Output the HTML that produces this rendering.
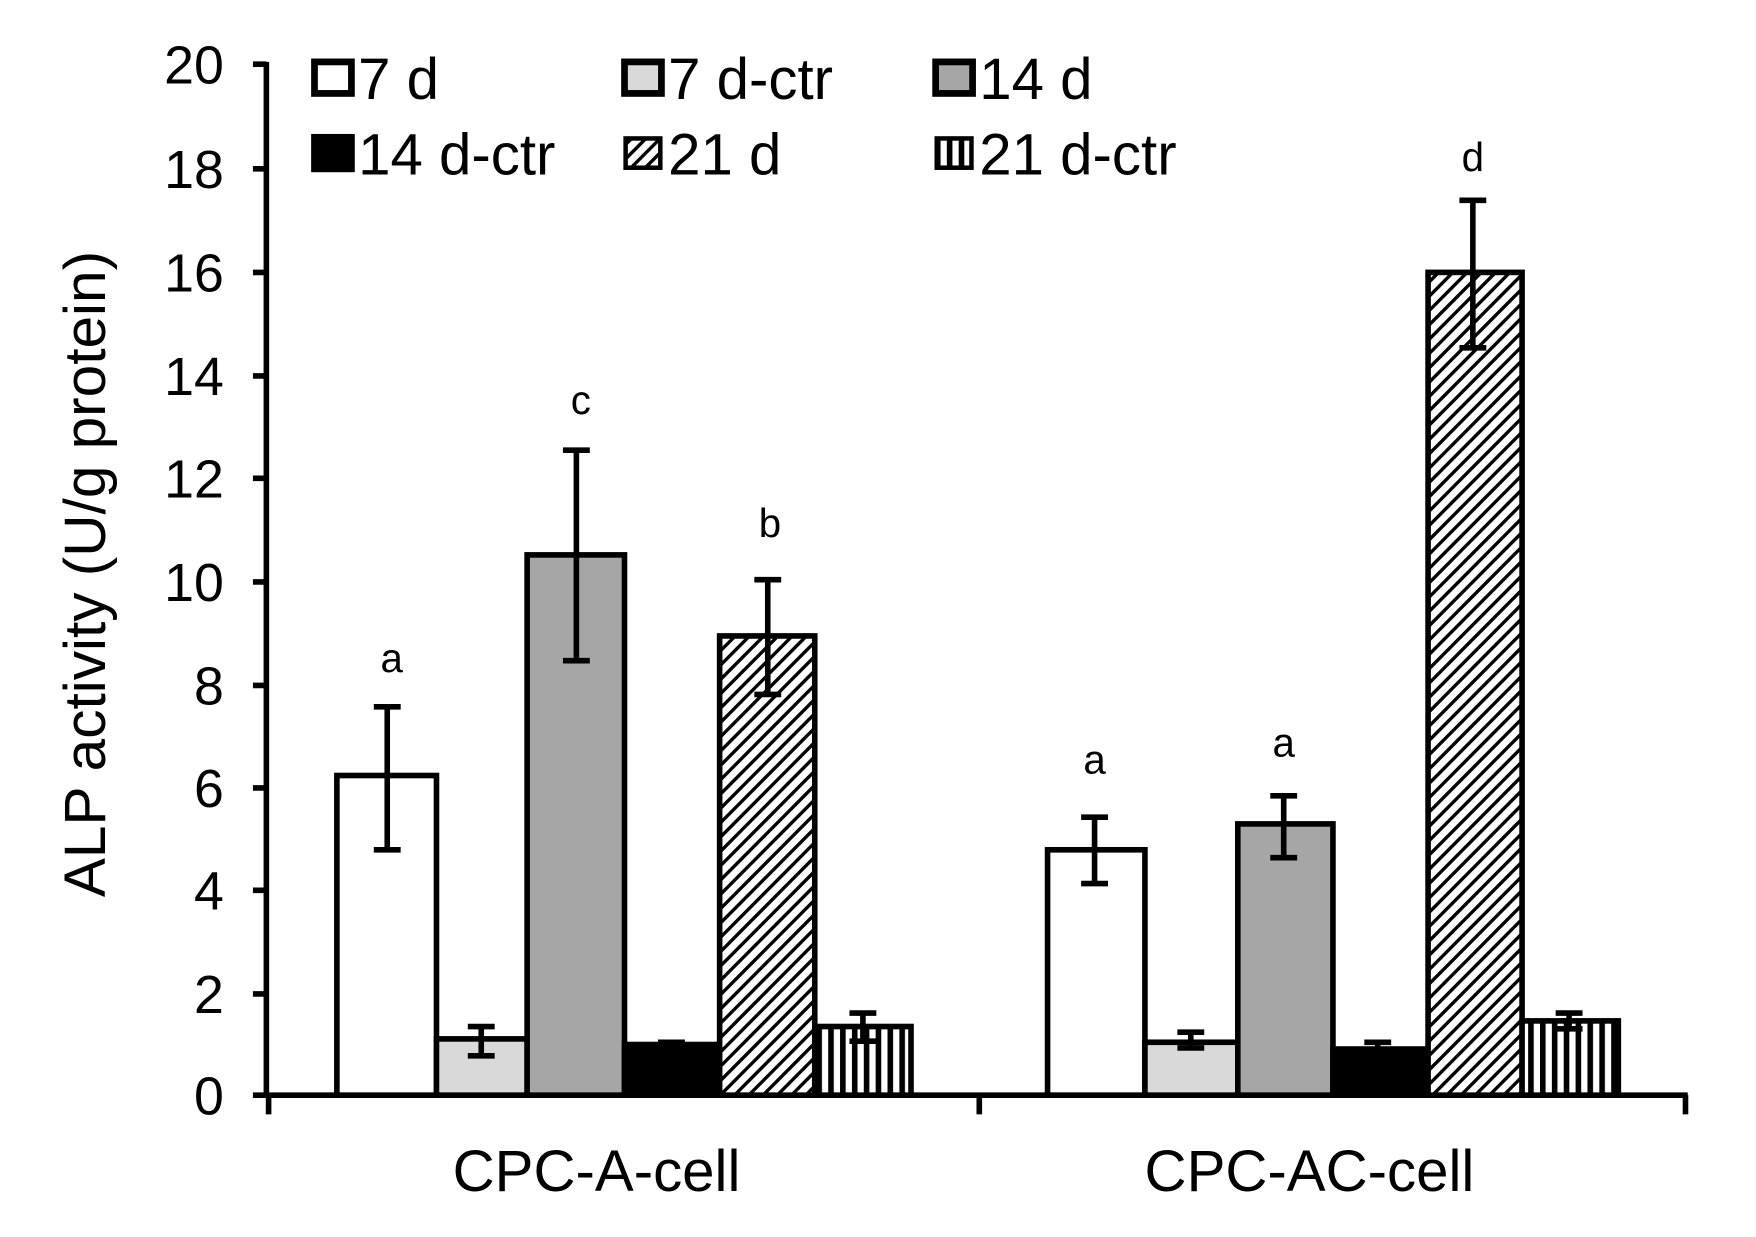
<!DOCTYPE html>
<html><head><style>html,body{margin:0;padding:0;background:#fff}svg{display:block}</style></head>
<body>
<svg width="1756" height="1237" viewBox="2 0 1569 1099" preserveAspectRatio="none" xmlns="http://www.w3.org/2000/svg" font-family="Liberation Sans, Arial, sans-serif">
<defs>
<pattern id="diag" patternUnits="userSpaceOnUse" width="9" height="9" patternTransform="rotate(45)">
<rect width="9" height="9" fill="#fff"/><rect x="0" y="0" width="3" height="9" fill="#000"/>
</pattern>
<pattern id="vert" patternUnits="userSpaceOnUse" width="10.6" height="10">
<rect width="10.6" height="10" fill="#fff"/><rect x="0" y="0" width="5" height="10" fill="#000"/>
</pattern>
</defs>
<rect x="0" width="1580" height="1099" fill="#fff"/>
<g stroke="#000" stroke-width="5" fill="none">
<line x1="240" y1="55" x2="240" y2="975"/>
<line x1="238" y1="973" x2="1510" y2="973"/>
<path d="M228 57H240M228 150H240M228 242H240M228 334H240M228 425H240M228 517H240M228 609H240M228 700H240M228 791H240M228 883H240M228 973H240"/>
<path d="M242 973V990M877 973V990M1508 973V990"/>
</g>
<g font-size="48" text-anchor="end" fill="#000">
<text x="202" y="74">20</text><text x="202" y="167">18</text><text x="202" y="259">16</text><text x="202" y="351">14</text><text x="202" y="442">12</text><text x="202" y="534">10</text><text x="202" y="626">8</text><text x="202" y="717">6</text><text x="202" y="808">4</text><text x="202" y="900">2</text><text x="202" y="990">0</text>
</g>
<text transform="translate(96,510) rotate(-90)" font-size="52" text-anchor="middle">ALP activity (U/g protein)</text>
<g stroke="#000" stroke-width="5">
<rect x="303" y="689" width="89" height="284" fill="#fff"/>
<rect x="392" y="923" width="81" height="50" fill="#d9d9d9"/>
<rect x="473" y="493" width="87" height="480" fill="#a6a6a6"/>
<rect x="560" y="928" width="85" height="45" fill="#000"/>
<rect x="645" y="565" width="85" height="408" fill="url(#diag)"/>
<rect x="730" y="912" width="86" height="61" fill="url(#vert)"/>
<rect x="938" y="755" width="87" height="218" fill="#fff"/>
<rect x="1025" y="926" width="83" height="47" fill="#d9d9d9"/>
<rect x="1108" y="732" width="85" height="241" fill="#a6a6a6"/>
<rect x="1193" y="932" width="85" height="41" fill="#000"/>
<rect x="1278" y="242" width="84" height="731" fill="url(#diag)"/>
<rect x="1362" y="907" width="86" height="66" fill="url(#vert)"/>
</g>
<g stroke="#000" stroke-width="5" fill="none">
<path d="M348 628V755M336 628H360M336 755H360"/>
<path d="M432 912V938M420 912H444M420 938H444"/>
<path d="M517 400V587M505 400H529M505 587H529"/>
<path d="M602 926V932M590 926H614M590 932H614"/>
<path d="M688 515V617M676 515H700M676 617H700"/>
<path d="M773 900V925M761 900H785M761 925H785"/>
<path d="M980 726V785M968 726H992M968 785H992"/>
<path d="M1066 917V931M1054 917H1078M1054 931H1078"/>
<path d="M1149 707V762M1137 707H1161M1137 762H1161"/>
<path d="M1233 926V934M1221 926H1245M1221 934H1245"/>
<path d="M1318 178V309M1306 178H1330M1306 309H1330"/>
<path d="M1404 900V914M1392 900H1416M1392 914H1416"/>
</g>
<g font-size="36" text-anchor="middle">
<text x="352" y="597">a</text><text x="521" y="368">c</text><text x="690" y="477">b</text>
<text x="980" y="687">a</text><text x="1149" y="672">a</text><text x="1318" y="152">d</text>
</g>
<g stroke="#000" stroke-width="6">
<rect x="283" y="55" width="33" height="28" fill="#fff"/>
<rect x="560" y="55" width="33" height="28" fill="#d9d9d9"/>
<rect x="838" y="55" width="33" height="28" fill="#a6a6a6"/>
<rect x="283" y="122" width="33" height="28" fill="#000"/>
</g>
<g stroke="#000" stroke-width="4">
<rect x="561" y="123" width="31" height="26" fill="url(#diag)"/>
<rect x="839" y="123" width="31" height="26" fill="url(#vert)"/>
</g>
<g font-size="52">
<text x="322" y="88">7 d</text><text x="599" y="88">7 d-ctr</text><text x="877" y="88">14 d</text>
<text x="322" y="155">14 d-ctr</text><text x="599" y="155">21 d</text><text x="877" y="155">21 d-ctr</text>
</g>
<g font-size="52" text-anchor="middle">
<text x="535" y="1058">CPC-A-cell</text><text x="1172" y="1058">CPC-AC-cell</text>
</g>
</svg>
</body></html>
